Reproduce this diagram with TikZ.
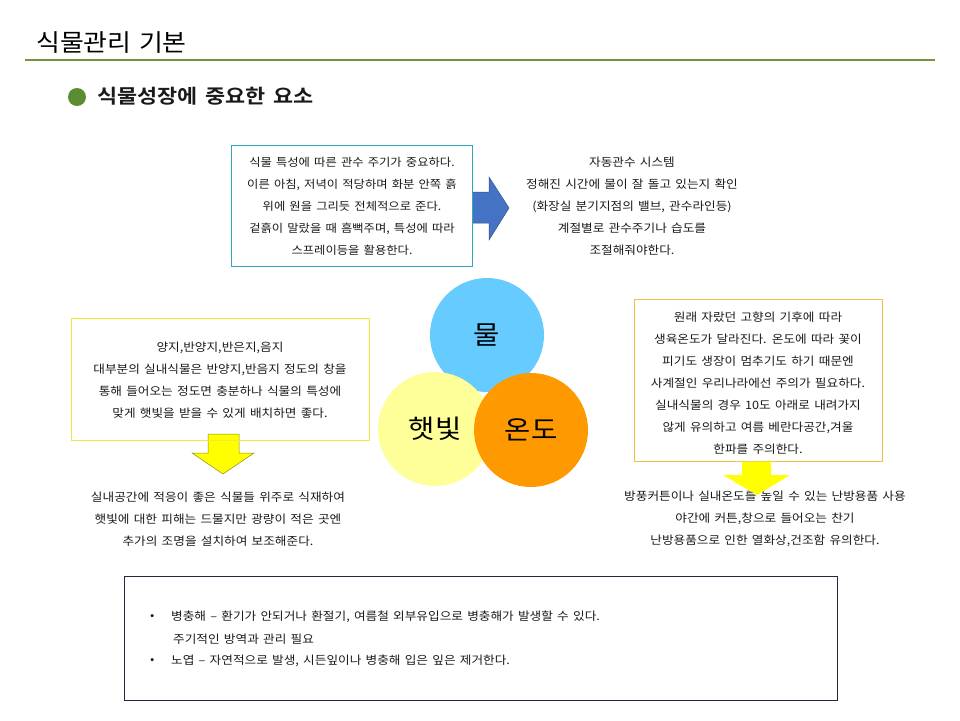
\documentclass[tikz,border=0pt]{standalone}
\usepackage{fontspec}
\setmainfont{Noto Sans CJK KR}[FakeStretch=1.1, WordSpace=1.5]
\newfontfamily\kobold{Noto Sans CJK KR Bold}[FakeStretch=1.12, WordSpace=1.6]
\newfontfamily\kotitle{Noto Sans CJK KR}[FakeStretch=1.08, WordSpace=1.3]
\definecolor{lineGreen}{HTML}{77933C}
\definecolor{dotGreen}{HTML}{5B8C32}
\definecolor{tealBorder}{HTML}{31A5BE}
\definecolor{arrowBlue}{HTML}{4472C4}
\definecolor{arrowBlueDark}{HTML}{2F528F}
\definecolor{yBorder}{HTML}{F2EA3A}
\definecolor{gBorder}{HTML}{E8C547}
\definecolor{navyBorder}{HTML}{1F2A3C}
\definecolor{cBlue}{HTML}{66CCFF}
\definecolor{cYellow}{HTML}{FFFF99}
\definecolor{cOrange}{HTML}{FF9900}
\definecolor{arrowYellow}{HTML}{FFFF00}
\definecolor{arrowYellowDark}{HTML}{8C8C1A}
\definecolor{txt}{HTML}{1A1A1A}
\begin{document}
\begin{tikzpicture}[x=1pt,y=-1pt,
  body/.style={font=\fontsize{11.5}{22}\selectfont, text=txt, align=center, inner sep=0pt},
  infobox/.style={draw, line width=0.9pt, fill=white},
  circ/.style={circle, inner sep=0pt, minimum size=114pt, font=\fontsize{26}{30}\selectfont, text=black}
]
\useasboundingbox[fill=white] (0,0) rectangle (960,720);
% title
\node (title) [anchor=west, font=\kotitle\fontsize{24}{28}\selectfont, text=black, inner sep=0pt] at (36,43) {식물관리 기본};
\coordinate (lineL) at (25,60);
\coordinate (lineR) at (935,60);
\draw[lineGreen, line width=1.6pt] (lineL) -- (lineR);
\node (dot) [circle, fill=dotGreen, minimum size=18pt, inner sep=0pt] at (77,97) {};
\node (subtitle) [anchor=west, font=\kobold\fontsize{19.5}{22}\selectfont, text=txt, inner sep=0pt] at (97,96) {식물성장에 중요한 요소};

% blue arrow
\filldraw[fill=arrowBlue, draw=arrowBlueDark, line width=0.5pt]
  (468,192) -- (489,192) -- (489,177) -- (509,208) -- (489,240) -- (489,223) -- (468,223) -- cycle;
% top box
\node (topbox) [infobox, draw=tealBorder, minimum width=241pt, minimum height=121pt] at (351.5,205.5) {};
\node (toptext) [body, font=\fontsize{11.2}{22}\selectfont] at (352,206) {식물 특성에 따른 관수 주기가 중요하다.\\이른 아침, 저녁이 적당하며 화분 안쪽 흙\\위에 원을 그리듯 전체적으로 준다.\\겉흙이 말랐을 때 흠뻑주며, 특성에 따라\\스프레이등을 활용한다.};
\node (righttop) [body] at (632,206) {자동관수 시스템\\정해진 시간에 물이 잘 돌고 있는지 확인\\(화장실 분기지점의 밸브, 관수라인등)\\계절별로 관수주기나 습도를\\조절해줘야한다.};

% circles
\node (water) [circ, fill=cBlue] at (487,335) {물};
\node (sun) [circ, fill=cYellow] at (435,429) {햇빛};
\node (temp) [circ, fill=cOrange] at (531,430) {온도};

% left arrow
\filldraw[fill=arrowYellow, draw=arrowYellowDark, line width=0.5pt]
  (208,434) -- (239,434) -- (239,453) -- (254,453) -- (223,474) -- (192,453) -- (208,453) -- cycle;
% left box
\node (leftbox) [draw=yBorder, line width=0.9pt, minimum width=298pt, minimum height=122pt] at (220,379) {};
\node (lefttext) [body] at (220,380) {양지,반양지,반은지,음지\\대부분의 실내식물은 반양지,반음지 정도의 창을\\통해 들어오는 정도면 충분하나 식물의 특성에\\맞게 햇빛을 받을 수 있게 배치하면 좋다.};
\node (leftbottom) [body] at (218,519) {실내공간에 적응이 좋은 식물들 위주로 식재하여\\햇빛에 대한 피해는 드물지만 광량이 적은 곳엔\\추가의 조명을 설치하여 보조해준다.};

% right box
\node (rightbox) [infobox, draw=gBorder, minimum width=248pt, minimum height=162pt] at (758,380) {};
\node (righttext) [body] at (758,383) {원래 자랐던 고향의 기후에 따라\\생육온도가 달라진다. 온도에 따라 꽃이\\피기도 생장이 멈추기도 하기 때문엔\\사계절인 우리나라에선 주의가 필요하다.\\실내식물의 경우 10도 아래로 내려가지\\않게 유의하고 여름 베란다공간,겨울\\한파를 주의한다.};
\node (rightbottom) [body] at (765,519) {방풍커튼이나 실내온도를 높일 수 있는 난방용품 사용\\야간에 커튼,창으로 들어오는 찬기\\난방용품으로 인한 열화상,건조함 유의한다.};
% right arrow (over text)
\fill[arrowYellow]
  (742,461.5) -- (771,461.5) -- (771,475) -- (790,475) -- (757,495) -- (723,475) -- (742,475) -- cycle;

% bottom box
\node (botbox) [draw=navyBorder, line width=0.9pt, minimum width=713pt, minimum height=124pt] at (480.5,638) {};
\node (b1dot) [body, anchor=west] at (150,617) {•};
\node (b1) [body, anchor=west] at (171,617) {병충해 – 환기가 안되거나 환절기, 여름철 외부유입으로 병충해가 발생할 수 있다.};
\node (b1b) [body, anchor=west] at (173,639) {주기적인 방역과 관리 필요};
\node (b2dot) [body, anchor=west] at (150,661) {•};
\node (b2) [body, anchor=west] at (171,661) {노엽 – 자연적으로 발생, 시든잎이나 병충해 입은 잎은 제거한다.};
\end{tikzpicture}
\end{document}
